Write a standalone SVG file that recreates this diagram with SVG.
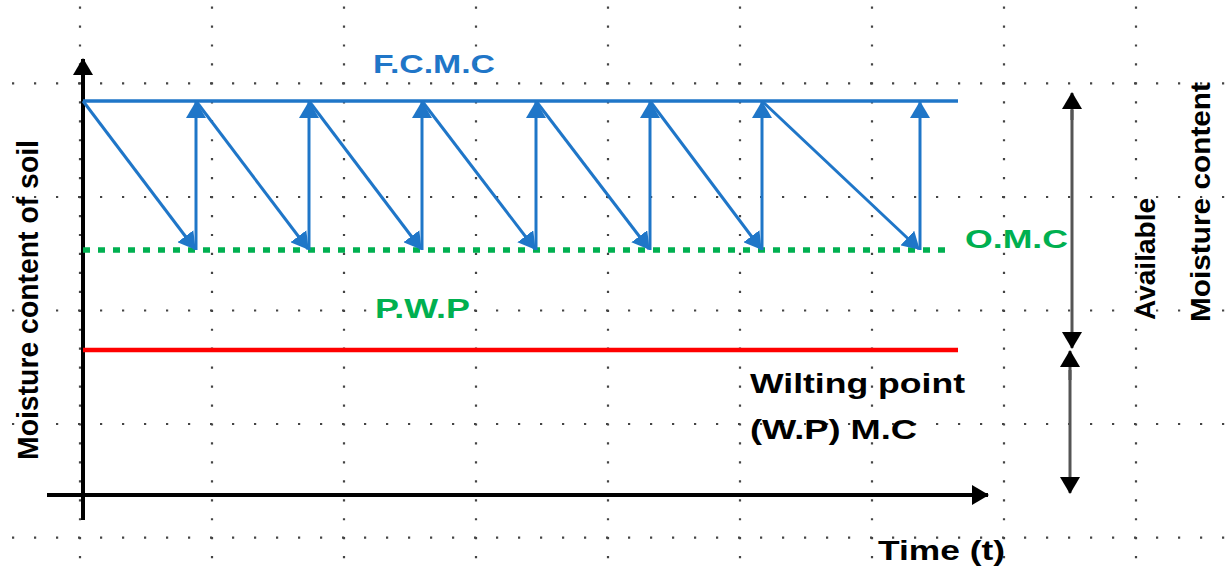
<svg xmlns="http://www.w3.org/2000/svg" width="1227" height="571" viewBox="0 0 1227 571">
<style>
.row{stroke:#444;stroke-width:2.2;stroke-dasharray:2.2 19.8;fill:none}
.col{stroke:#444;stroke-width:2.2;stroke-dasharray:2.2 16.75;fill:none}
.blue{stroke:#1F76C8;stroke-width:3;fill:none}
.axis{stroke:#000;stroke-width:4;fill:none}
.dbl{stroke:#555;stroke-width:3;fill:none}
.t{font-family:"Liberation Sans",Arial,sans-serif;font-weight:bold}
</style>
<defs>
<marker id="ab" markerUnits="userSpaceOnUse" markerWidth="17" markerHeight="20" refX="16" refY="10" orient="auto" viewBox="0 0 17 20"><path d="M0,0 L17,10 L0,20 Z" fill="#1F76C8"/></marker>
<marker id="ak" markerUnits="userSpaceOnUse" markerWidth="17" markerHeight="20" refX="16" refY="10" orient="auto" viewBox="0 0 17 20"><path d="M0,0 L17,10 L0,20 Z" fill="#000"/></marker>
</defs>
<rect width="1227" height="571" fill="#fff"/>
<g id="grid">
<line class="row" x1="12" y1="83.4" x2="1227" y2="83.4"/>
<line class="row" x1="12" y1="197" x2="1227" y2="197"/>
<line class="row" x1="12" y1="310.5" x2="1227" y2="310.5"/>
<line class="row" x1="12" y1="424" x2="1227" y2="424"/>
<line class="row" x1="12" y1="537.7" x2="1227" y2="537.7"/>
<line class="col" x1="80" y1="6.5" x2="80" y2="571"/>
<line class="col" x1="212" y1="6.5" x2="212" y2="571"/>
<line class="col" x1="344" y1="6.5" x2="344" y2="571"/>
<line class="col" x1="476" y1="6.5" x2="476" y2="571"/>
<line class="col" x1="608" y1="6.5" x2="608" y2="571"/>
<line class="col" x1="740" y1="6.5" x2="740" y2="571"/>
<line class="col" x1="872" y1="6.5" x2="872" y2="571"/>
<line class="col" x1="1004" y1="6.5" x2="1004" y2="571"/>
<line class="col" x1="1136" y1="6.5" x2="1136" y2="571"/>
</g>
<g id="axes">
<line class="axis" x1="83" y1="520" x2="83" y2="59" marker-end="url(#ak)"/>
<line class="axis" x1="47" y1="495" x2="988" y2="495" stroke-width="3.5" marker-end="url(#ak)"/>
</g>
<g id="levels">
<line id="fcmc-line" x1="83" y1="101" x2="958" y2="101" stroke="#1F76C8" stroke-width="3.5"/>
<line id="omc-line" x1="83" y1="250" x2="950" y2="250" stroke="#00B050" stroke-width="5.5" stroke-dasharray="7 8"/>
<line id="wp-line" x1="83" y1="350" x2="958" y2="350" stroke="#FF0000" stroke-width="4.5"/>
</g>
<g id="connectors">
<line class="blue" x1="83" y1="101" x2="195" y2="249" marker-end="url(#ab)"/>
<line class="blue" x1="196" y1="250" x2="196" y2="102" marker-end="url(#ab)"/>
<line class="blue" x1="196" y1="101" x2="308" y2="249" marker-end="url(#ab)"/>
<line class="blue" x1="309" y1="250" x2="309" y2="102" marker-end="url(#ab)"/>
<line class="blue" x1="309" y1="101" x2="421" y2="249" marker-end="url(#ab)"/>
<line class="blue" x1="422" y1="250" x2="422" y2="102" marker-end="url(#ab)"/>
<line class="blue" x1="422" y1="101" x2="535" y2="249" marker-end="url(#ab)"/>
<line class="blue" x1="536" y1="250" x2="536" y2="102" marker-end="url(#ab)"/>
<line class="blue" x1="536" y1="101" x2="649" y2="249" marker-end="url(#ab)"/>
<line class="blue" x1="650" y1="250" x2="650" y2="102" marker-end="url(#ab)"/>
<line class="blue" x1="650" y1="101" x2="761" y2="249" marker-end="url(#ab)"/>
<line class="blue" x1="762" y1="250" x2="762" y2="102" marker-end="url(#ab)"/>
<line class="blue" x1="762" y1="101" x2="919" y2="249" marker-end="url(#ab)"/>
<line class="blue" x1="920" y1="250" x2="920" y2="102" marker-end="url(#ab)"/>
<line class="dbl" x1="1072" y1="120" x2="1072" y2="93" marker-end="url(#ak)"/>
<line class="dbl" x1="1072" y1="110" x2="1072" y2="348" marker-end="url(#ak)"/>
<line class="dbl" x1="1070" y1="380" x2="1070" y2="351" marker-end="url(#ak)"/>
<line class="dbl" x1="1070" y1="370" x2="1070" y2="493" marker-end="url(#ak)"/>
</g>
<g id="labels">
<text class="t" x="373" y="73" font-size="25" fill="#1F76C8" textLength="122" lengthAdjust="spacingAndGlyphs">F.C.M.C</text>
<text class="t" x="965" y="248" font-size="26" fill="#00B050" textLength="103" lengthAdjust="spacingAndGlyphs">O.M.C</text>
<text class="t" x="375" y="318" font-size="27" fill="#00B050" textLength="95" lengthAdjust="spacingAndGlyphs">P.W.P</text>
<text class="t" x="750" y="393" font-size="28" fill="#000" textLength="215" lengthAdjust="spacingAndGlyphs">Wilting point</text>
<text class="t" x="750" y="439" font-size="28" fill="#000" textLength="167" lengthAdjust="spacingAndGlyphs">(W.P) M.C</text>
<text class="t" x="878" y="560" font-size="27" fill="#000" textLength="127" lengthAdjust="spacingAndGlyphs">Time (t)</text>
<text class="t" transform="translate(38,460) rotate(-90)" font-size="30" fill="#000" textLength="320" lengthAdjust="spacingAndGlyphs">Moisture content of soil</text>
<text class="t" transform="translate(1155,320) rotate(-90)" font-size="27" fill="#000" textLength="122" lengthAdjust="spacingAndGlyphs">Available</text>
<text class="t" transform="translate(1210,322) rotate(-90)" font-size="27" fill="#000" textLength="240" lengthAdjust="spacingAndGlyphs">Moisture  content</text>
</g>
</svg>
